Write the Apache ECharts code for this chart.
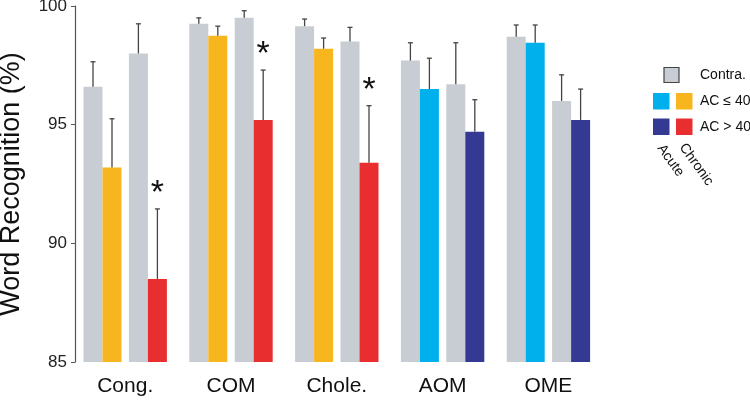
<!DOCTYPE html>
<html><head><meta charset="utf-8">
<script src="https://cdn.jsdelivr.net/npm/echarts@6/dist/echarts.min.js"></script>
<style>html,body{margin:0;padding:0;background:#fff}#c{width:750px;height:400px}</style>
</head><body><div id="c"></div>
<script>
const categories = ['Cong.', 'COM', 'Chole.', 'AOM', 'OME'];
const contra1 = [96.6, 99.25, 99.15, 97.7, 98.7];
const contra1Err = [1.05, 0.25, 0.3, 0.75, 0.5];
const acLow = [93.2, 98.75, 98.2, 96.5, 98.45];
const acLowErr = [2.05, 0.4, 0.45, 1.3, 0.75];
const contra2 = [98.0, 99.5, 98.5, 96.7, 96.0];
const contra2Err = [1.25, 0.3, 0.6, 1.75, 1.1];
const acHigh = [88.5, 95.2, 93.4, 94.7, 95.2];
const acHighErr = [2.95, 2.1, 2.4, 1.35, 1.3];
const significant = [true, true, true, false, false];
const isChronic = [true, true, true, false, false];
const yTicks = [85, 90, 95, 100];

const C = {
  gray: '#c8ccd3', orange: '#f7b51e', red: '#e92e30',
  cyan: '#00b0ec', navy: '#343a94', err: '#444'
};
const FONT = '"Liberation Sans", Arial, sans-serif';
const BAR_W = 19;
const offsets = [-41.7, -22.7, 3.7, 22.7];

function makeSeries(slot, vals, errs, colorFn, stars) {
  return {
    type: 'custom',
    data: vals.map((v, i) => [i, v, errs[i]]),
    renderItem: function (params, api) {
      const idx = api.value(0);
      const v = api.value(1), e = api.value(2);
      const top = api.coord([idx, v]);
      const base = api.coord([idx, 85]);
      const et = api.coord([idx, v + e]);
      const x = top[0] + offsets[slot];
      const cx = x + BAR_W / 2;
      const children = [
        { type: 'rect', shape: { x: x, y: top[1], width: BAR_W, height: base[1] - top[1] },
          style: { fill: colorFn(idx) } },
        { type: 'line', shape: { x1: cx, y1: top[1], x2: cx, y2: et[1] },
          style: { stroke: C.err, lineWidth: 1.3 } },
        { type: 'line', shape: { x1: cx - 2.5, y1: et[1], x2: cx + 2.5, y2: et[1] },
          style: { stroke: C.err, lineWidth: 1.3 } }
      ];
      if (stars && stars[idx]) {
        children.push({ type: 'text', style: { text: '*', x: cx, y: et[1] + 2,
          align: 'center', verticalAlign: 'bottom', fill: '#111',
          font: '34px ' + FONT } });
      }
      return { type: 'group', children: children };
    }
  };
}

const chart = echarts.init(document.getElementById('c'), null, { renderer: 'canvas' });
chart.setOption({
  animation: false,
  grid: { left: 72.3, top: 6, width: 529, bottom: 38, containLabel: false, outerBoundsMode: 'none' },
  xAxis: {
    type: 'category', data: categories,
    axisLine: { show: false }, axisTick: { show: false },
    axisLabel: { fontSize: 21, color: '#111', fontFamily: FONT, margin: 14 }
  },
  yAxis: {
    type: 'value', min: 85, max: 100, interval: 5, offset: -2.7,
    name: 'Word Recognition (%)', nameLocation: 'middle', nameGap: 50,
    nameTextStyle: { fontSize: 27, color: '#111', fontFamily: FONT },
    axisLine: { show: true, lineStyle: { color: '#555', width: 1.2 } },
    axisTick: { show: true, inside: false, length: 4, lineStyle: { color: '#555' } },
    splitLine: { show: false },
    axisLabel: { fontSize: 17, color: '#222', fontFamily: FONT, margin: 8,
      formatter: v => yTicks.includes(v) ? String(v) : '' }
  },
  series: [
    makeSeries(0, contra1, contra1Err, () => C.gray),
    makeSeries(1, acLow, acLowErr, i => isChronic[i] ? C.orange : C.cyan),
    makeSeries(2, contra2, contra2Err, () => C.gray),
    makeSeries(3, acHigh, acHighErr, i => isChronic[i] ? C.red : C.navy, significant)
  ],
  graphic: [
    { type: 'rect', shape: { x: 664, y: 67.5, width: 15, height: 15 },
      style: { fill: C.gray, stroke: '#444', lineWidth: 1.2 } },
    { type: 'rect', shape: { x: 653, y: 93, width: 16.5, height: 16.5 }, style: { fill: C.cyan } },
    { type: 'rect', shape: { x: 676, y: 93, width: 16.5, height: 16.5 }, style: { fill: C.orange } },
    { type: 'rect', shape: { x: 653, y: 118.5, width: 16.5, height: 16.5 }, style: { fill: C.navy } },
    { type: 'rect', shape: { x: 676, y: 118.5, width: 16.5, height: 16.5 }, style: { fill: C.red } },
    { type: 'text', x: 700, y: 75, style: { text: 'Contra.', font: '14px ' + FONT, fill: '#111', verticalAlign: 'middle' } },
    { type: 'text', x: 700, y: 101, style: { text: 'AC \u2264 40', font: '14px ' + FONT, fill: '#111', verticalAlign: 'middle' } },
    { type: 'text', x: 700, y: 127, style: { text: 'AC > 40', font: '14px ' + FONT, fill: '#111', verticalAlign: 'middle' } },
    { type: 'text', x: 660, y: 146, rotation: -Math.PI * 0.3, style: { text: 'Acute', font: '14px ' + FONT, fill: '#111', verticalAlign: 'middle' } },
    { type: 'text', x: 682, y: 145, rotation: -Math.PI * 0.3, style: { text: 'Chronic', font: '14px ' + FONT, fill: '#111', verticalAlign: 'middle' } }
  ]
});
</script></body></html>
